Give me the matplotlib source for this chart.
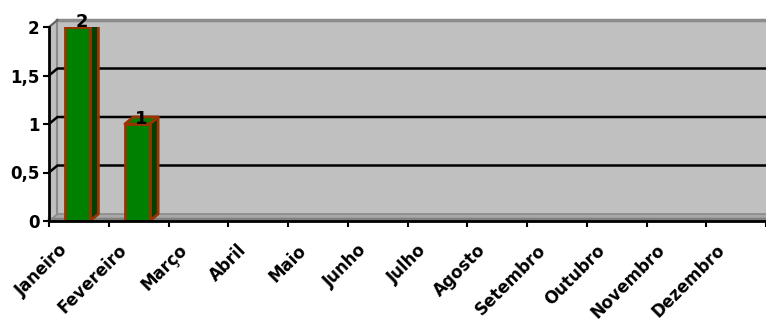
import matplotlib
matplotlib.use("Agg")
import matplotlib.pyplot as plt
from matplotlib.patches import Polygon, Rectangle
from matplotlib.transforms import ScaledTranslation

months = ["Janeiro", "Fevereiro", "Março", "Abril", "Maio", "Junho", "Julho",
          "Agosto", "Setembro", "Outubro", "Novembro", "Dezembro"]
values = [2, 1, 0, 0, 0, 0, 0, 0, 0, 0, 0, 0]
yticks = [0, 0.5, 1, 1.5, 2]
ytick_labels = ["0", "0,5", "1", "1,5", "2"]

plt.rcParams['font.family'] = ['DejaVu Sans']
plt.rcParams['font.weight'] = 'bold'

W, H = 766, 322
fig = plt.figure(figsize=(W / 100, H / 100), dpi=100)
left_px, right_px, bot_px, top_px = 49, 766, 221, 27
ax = fig.add_axes([left_px / W, (H - bot_px) / H, (right_px - left_px) / W, (bot_px - top_px) / H])
cat_px = 60.2
ax.set_xlim(0, (right_px - left_px) / cat_px)
ax.set_ylim(0, 2)
ax.set_facecolor('none')
for s in ['top', 'right']:
    ax.spines[s].set_visible(False)
for s in ['left', 'bottom']:
    ax.spines[s].set_linewidth(2)
    ax.spines[s].set_color('black')
    ax.spines[s].set_zorder(10)

# depth offset in data units (pixels -> data)
fig.canvas.draw()
p0 = ax.transData.transform((0, 0))
dx, dy = ax.transData.inverted().transform(p0 + [8.5, 7]) - ax.transData.inverted().transform(p0)
xmax = ax.get_xlim()[1]
ymax = 2

wall = '#C0C0C0'
edge = '#8C8C8C'
# back wall
ax.add_patch(Rectangle((dx, dy), xmax, ymax, facecolor=wall, edgecolor='none', clip_on=False, zorder=0))
ax.plot([dx, xmax + dx], [ymax + dy, ymax + dy], color=edge, lw=2.5, clip_on=False, zorder=1)
ax.plot([dx, dx], [dy, ymax + dy], color=edge, lw=1.5, clip_on=False, zorder=1)
# left wall
ax.add_patch(Polygon([(0, 0), (dx, dy), (dx, ymax + dy), (0, ymax)], closed=True,
                     facecolor=wall, edgecolor='none', clip_on=False, zorder=0))
ax.plot([0, dx], [ymax, ymax + dy], color='#606060', lw=1.5, clip_on=False, zorder=1)
# floor
ax.add_patch(Polygon([(0, 0), (dx, dy), (xmax + dx, dy), (xmax + dx, 0)], closed=True,
                     facecolor='#A8A8A8', edgecolor='none', clip_on=False, zorder=1))
ax.plot([dx, xmax + dx], [dy, dy], color=edge, lw=1.2, clip_on=False, zorder=1)
ax.plot([0, xmax + dx], [0.018, 0.018], color='#808080', lw=2.5, clip_on=False, zorder=1)
ax.plot([0, dx], [0, dy], color=edge, lw=1.2, clip_on=False, zorder=1)

# gridlines on back wall (not at the top edge)
for t in yticks[1:-1]:
    ax.plot([0, dx, xmax + dx], [t, t + dy, t + dy], color='black', lw=1.8, clip_on=False, zorder=2)

# 3D bars
bw = 0.415
boff = 0.27
green = '#008000'
dark = '#004000'
bedge = '#993300'
for i, v in enumerate(values):
    if v <= 0:
        continue
    x0 = i + boff
    x1 = x0 + bw
    ax.add_patch(Polygon([(x1, 0), (x1 + dx, dy), (x1 + dx, v + dy), (x1, v)], closed=True,
                         facecolor=dark, edgecolor=bedge, lw=2, zorder=5, joinstyle='round'))
    ax.add_patch(Polygon([(x0, v), (x1, v), (x1 + dx, v + dy), (x0 + dx, v + dy)], closed=True,
                         facecolor=green, edgecolor=bedge, lw=2, zorder=5, joinstyle='round'))
    ax.add_patch(Rectangle((x0, 0), bw, v, facecolor=green, edgecolor=bedge, lw=2, zorder=6))
    ax.text(x0 + bw / 2 + dx * 0.5, v, str(v), ha='center', va='baseline',
            fontsize=13, fontweight='bold', zorder=8)

ax.set_yticks(yticks)
ax.set_yticklabels(ytick_labels, fontsize=12, fontweight='bold')
ax.tick_params(axis='y', length=4, width=1.5, pad=3)

ax.set_xticks([i + 0.5 for i in range(len(months))])
ax.set_xticklabels(months, rotation=45, ha='right', va='center', rotation_mode='anchor',
                   fontsize=12, fontweight='bold')
ax.tick_params(axis='x', which='major', length=0, pad=14)
off = ScaledTranslation(-14 / 100, -7 / 100, fig.dpi_scale_trans)
for lab in ax.get_xticklabels():
    lab.set_transform(lab.get_transform() + off)
ax.set_xticks(list(range(len(months) + 1)), minor=True)
ax.tick_params(axis='x', which='minor', length=4, width=1.5, direction='out')

fig.savefig('out.png', dpi=100)
